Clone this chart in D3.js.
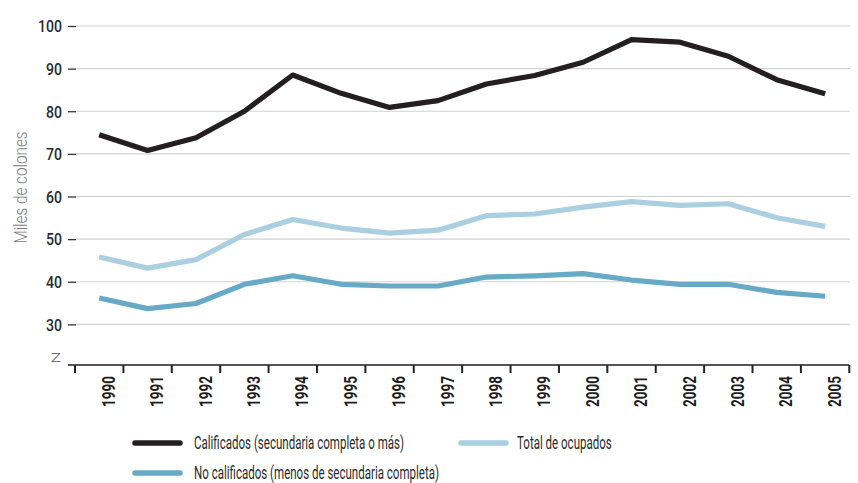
<!DOCTYPE html>
<html>
<head>
<meta charset="utf-8">
<script src="https://cdn.jsdelivr.net/npm/d3@7"></script>
<style>
  body { margin: 0; background: #fff; }
  text { font-family: Roboto, "Open Sans", "DejaVu Sans", sans-serif; }
</style>
</head>
<body>
<svg id="chart" width="858" height="483"></svg>
<script>
// Ingreso medio por tipo de ocupado, miles de colones
const years = [1990, 1991, 1992, 1993, 1994, 1995, 1996, 1997, 1998, 1999, 2000, 2001, 2002, 2003, 2004, 2005];
const calificados   = [74.5, 70.8, 73.8, 80.0, 88.5, 84.2, 80.9, 82.5, 86.4, 88.4, 91.5, 96.8, 96.2, 92.9, 87.4, 84.1];
const totalOcupados = [45.8, 43.2, 45.2, 51.1, 54.6, 52.6, 51.4, 52.1, 55.5, 55.9, 57.5, 58.8, 57.9, 58.3, 55.0, 53.0];
const noCalificados = [36.2, 33.7, 34.9, 39.4, 41.4, 39.4, 39.0, 39.0, 41.1, 41.4, 41.9, 40.4, 39.4, 39.4, 37.5, 36.6];
const yTicks = [30, 40, 50, 60, 70, 80, 90, 100];
const seriesNames = [
  "Calificados (secundaria completa o más)",
  "Total de ocupados",
  "No calificados (menos de secundaria completa)"
];
const yTitle = "Miles de colones";

const colors = ["#231f20", "#aacfe1", "#67aac8"];
const svg = d3.select("#chart");

const x = d3.scaleBand().domain(years).range([75, 849.3]);
const y = d3.scaleLinear().domain([20, 100]).range([367, 26]);
const cx = d => x(d) + x.bandwidth() / 2;

// gridlines
svg.append("g")
  .selectAll("line")
  .data(yTicks)
  .join("line")
  .attr("x1", 76).attr("x2", 850)
  .attr("y1", d => y(d)).attr("y2", d => y(d))
  .attr("stroke", "#d2d2d2").attr("stroke-width", 1.2);

// y axis ticks and labels
const yAxis = svg.append("g")
  .attr("transform", "translate(76,0)")
  .call(d3.axisLeft(y).tickValues(yTicks).tickSize(8).tickFormat(d3.format("d")));
yAxis.select(".domain").remove();
yAxis.selectAll(".tick line").attr("stroke", "#333").attr("stroke-width", 1.3);
yAxis.selectAll(".tick text")
  .attr("x", null).attr("dy", "0.36em")
  .attr("transform", "translate(-14,0) scale(0.88,1)")
  .attr("font-size", 16).attr("font-weight", 500)
  .attr("fill", "#2b2b2b");

// axis break mark
svg.append("text")
  .attr("transform", "translate(56,362) scale(1.35,1)")
  .attr("text-anchor", "middle")
  .attr("font-size", 13).attr("font-weight", 300).attr("fill", "#555")
  .text("Z");

// y title
svg.append("text")
  .attr("transform", `translate(27,${(128 + 247) / 2}) rotate(-90) scale(0.85,1)`)
  .attr("text-anchor", "middle")
  .attr("font-size", 18).attr("font-weight", 300)
  .attr("fill", "#7a7a7a")
  .text(yTitle);

// x axis line and boundary ticks
const xBase = 365;
svg.append("line")
  .attr("x1", 68).attr("x2", x.range()[1])
  .attr("y1", xBase).attr("y2", xBase)
  .attr("stroke", "#555").attr("stroke-width", 2);
const bounds = years.map(d => x(d)).concat([x.range()[1]]);
svg.append("g")
  .selectAll("line")
  .data(bounds)
  .join("line")
  .attr("x1", d => d).attr("x2", d => d)
  .attr("y1", xBase).attr("y2", xBase + 8)
  .attr("stroke", "#222").attr("stroke-width", 2);

// year labels
svg.append("g")
  .selectAll("text")
  .data(years)
  .join("text")
  .attr("transform", d => `translate(${cx(d) + 9.3},376) rotate(-90) scale(0.75,1)`)
  .attr("text-anchor", "end")
  .attr("dy", "0.35em")
  .attr("font-size", 18).attr("font-weight", 700)
  .attr("fill", "#1e1e1e")
  .text(d => d);

// series lines
const line = d3.line().x((d, i) => cx(years[i])).y(d => y(d));
const series = [calificados, totalOcupados, noCalificados];
const drawOrder = [1, 2, 0];
drawOrder.forEach(k => {
  svg.append("path")
    .datum(series[k])
    .attr("d", line)
    .attr("fill", "none")
    .attr("stroke", colors[k])
    .attr("stroke-width", 5.2)
    .attr("stroke-linejoin", "round")
    .attr("stroke-linecap", "butt");
});

// legend
const legendPos = [[135, 443], [461, 443], [135, 473]];
seriesNames.forEach((name, k) => {
  const [lx, ly] = legendPos[k];
  svg.append("line")
    .attr("x1", lx).attr("x2", lx + 45)
    .attr("y1", ly).attr("y2", ly)
    .attr("stroke", colors[k]).attr("stroke-width", 5.5)
    .attr("stroke-linecap", "round");
  svg.append("text")
    .attr("transform", `translate(${lx + (k === 1 ? 56 : 59)},${ly}) scale(0.64,1)`)
    .attr("dy", "0.36em")
    .attr("font-size", 18).attr("font-weight", 400)
    .attr("fill", "#2b2b2b")
    .text(name);
});
</script>
</body>
</html>
